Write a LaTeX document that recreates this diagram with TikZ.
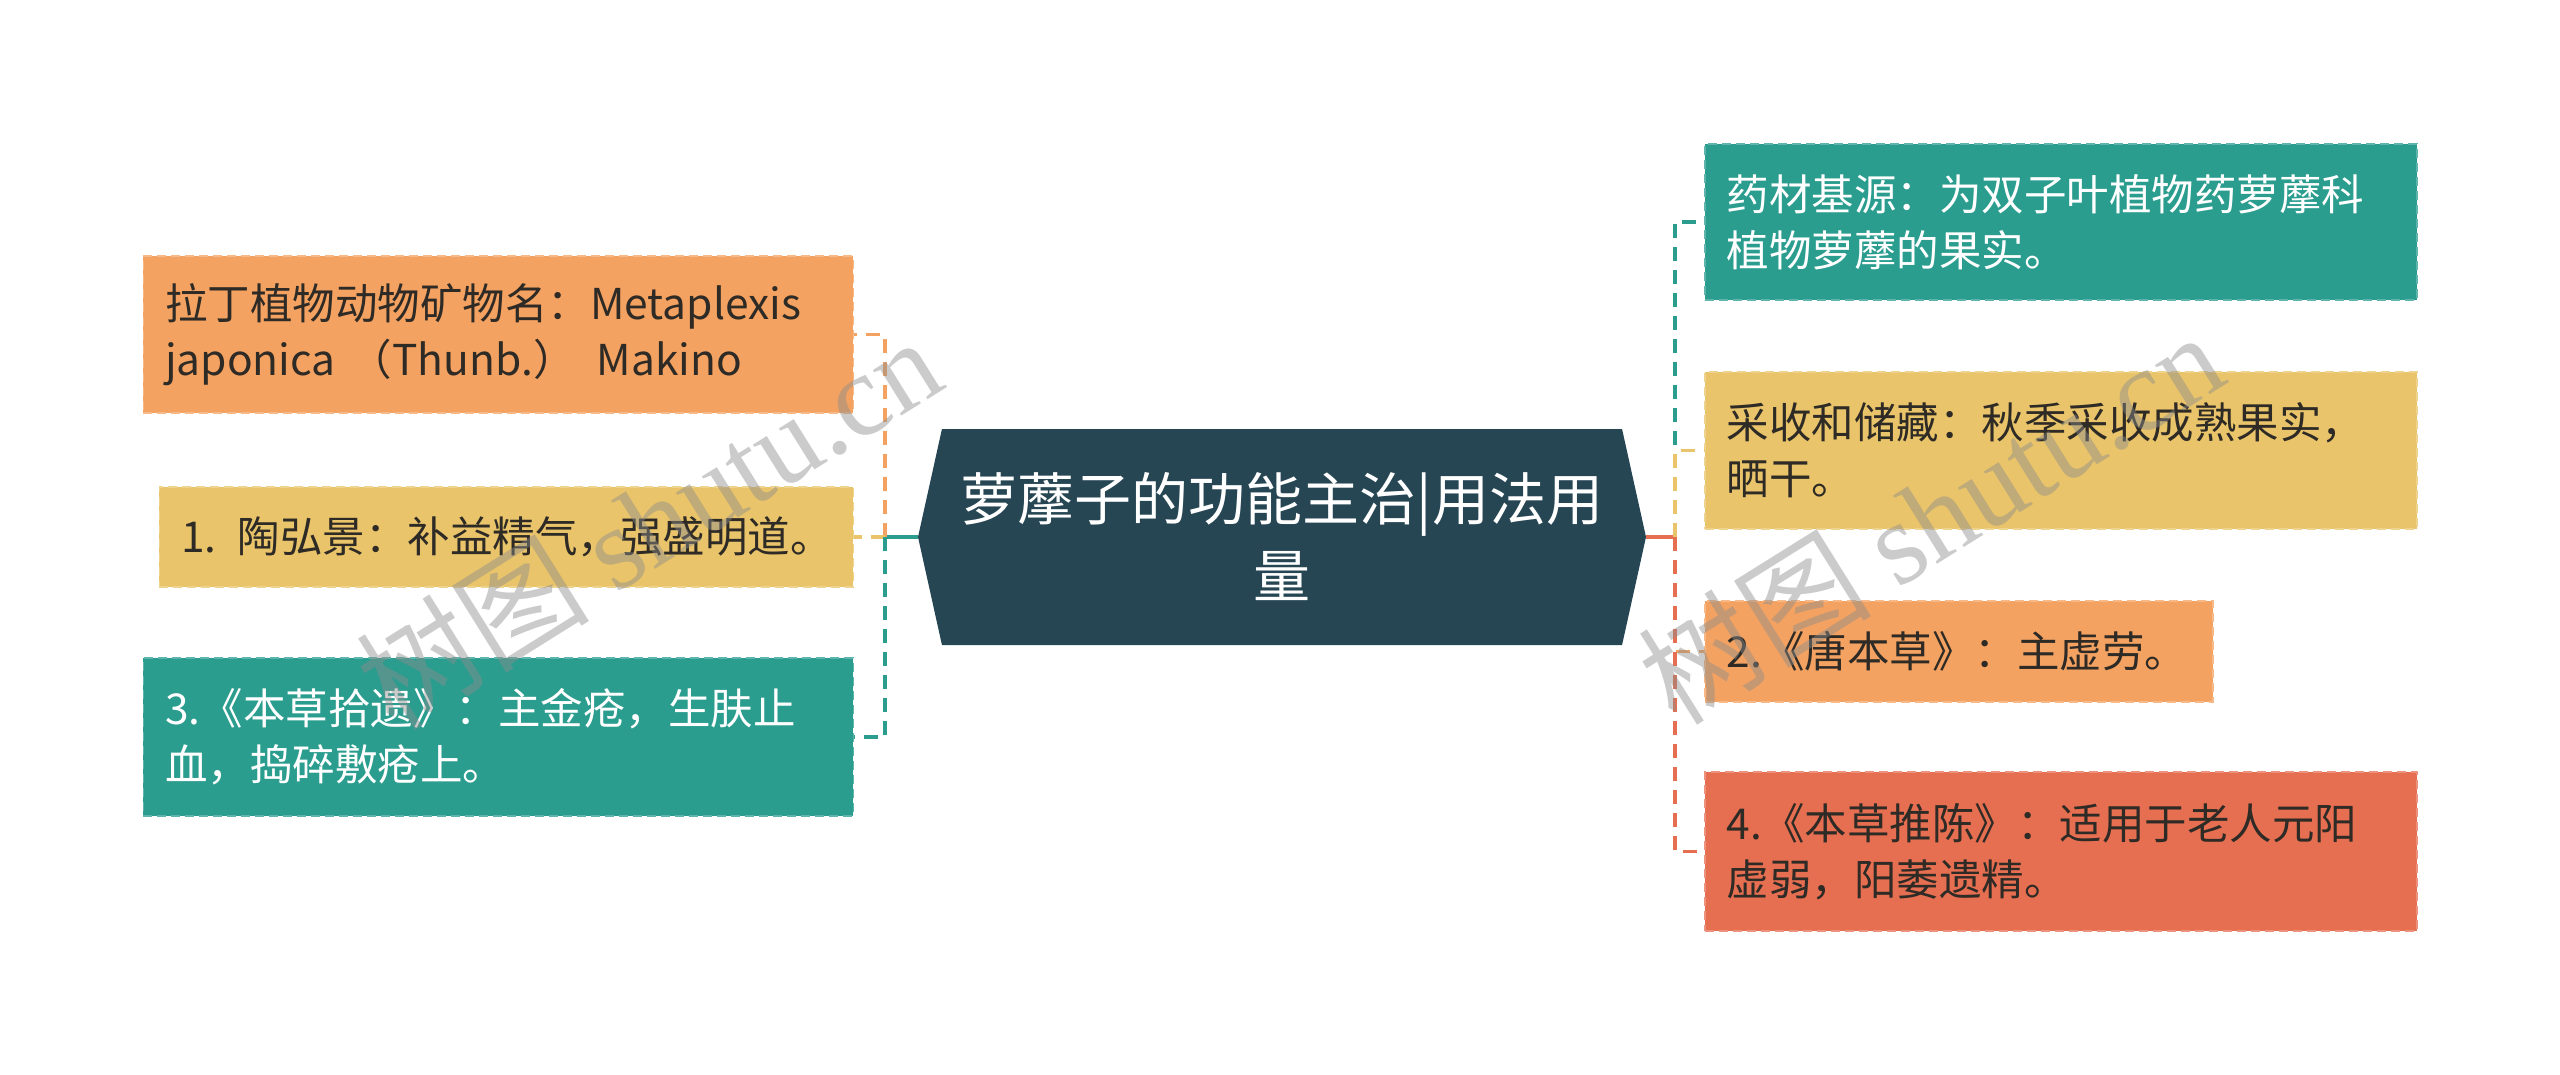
\documentclass[tikz,border=0pt]{standalone}
\usepackage{fontspec}
\setmainfont{Noto Sans CJK SC}
\newfontfamily\markfont{Liberation Serif}
\usepackage{tikz}
\usetikzlibrary{positioning}
\usetikzlibrary{shapes.symbols}
\definecolor{hubslate}{HTML}{264653}
\definecolor{leafteal}{HTML}{2A9D8F}
\definecolor{leafsand}{HTML}{E9C46A}
\definecolor{leafpeach}{HTML}{F4A261}
\definecolor{leafcoral}{HTML}{E76F51}
\definecolor{inkdark}{HTML}{2E2A25}

\begin{document}
\begin{tikzpicture}[x=1pt, y=-1pt,
    hub/.style={signal, signal to=east and west, signal pointer angle=155,
      fill=hubslate, text=white, minimum width=728pt, minimum height=216pt,
      inner sep=0pt, align=center, font=\fontsize{57}{77}\selectfont},
    leaf/.style={rectangle, fill=#1, draw=#1!75!white, dash pattern=on 9pt off 5pt,
      line width=1.5pt, inner xsep=22pt, inner ysep=0pt, align=left,
      text=inkdark, font=\fontsize{42.5}{56}\selectfont},
    link/.style={line width=3.5pt, dash pattern=on 14pt off 9pt},
    stub/.style={line width=3.5pt},
    wmark/.style={rotate=32, text=black!45, opacity=0.45, font=\fontsize{117}{117}\selectfont}]
            \useasboundingbox (0,0) rectangle (2560,1075);

            \node[hub] (c) at (1282,537) {萝藦子的功能主治|用法用\\量};

            \node[leaf=leafpeach, anchor=east, text width=666pt, minimum height=157pt] (l1) at (854,334.5)
              {拉丁植物动物矿物名：Metaplexis\\japonica （Thunb.） Makino};
            \node[leaf=leafsand, anchor=east, text width=650pt, minimum height=100pt] (l2) at (854,537)
              {1. 陶弘景：补益精气，强盛明道。};
            \node[leaf=leafteal, anchor=east, text=white, text width=666pt, minimum height=158pt] (l3) at (854,737)
              {3.《本草拾遗》：主金疮，生肤止\\血，捣碎敷疮上。};

            \node[leaf=leafteal, anchor=west, text=white, text width=668pt, minimum height=156pt] (r1) at (1704,222)
              {药材基源：为双子叶植物药萝藦科\\植物萝藦的果实。};
            \node[leaf=leafsand, anchor=west, text width=668pt, minimum height=157pt] (r2) at (1704,450.5)
              {采收和储藏：秋季采收成熟果实，\\晒干。};
            \node[leaf=leafpeach, anchor=west, text width=464pt, minimum height=101pt] (r3) at (1704,651.5)
              {2.《唐本草》：主虚劳。};
            \node[leaf=leafcoral, anchor=west, text width=668pt, minimum height=159pt] (r4) at (1704,851.5)
              {4.《本草推陈》：适用于老人元阳\\虚弱，阳萎遗精。};

            \coordinate[left=33pt of c.west] (lb);
            \coordinate[right=29pt of c.east] (rb);

            \draw[stub, leafteal] (c.west) -- (lb);
            \draw[link, leafpeach] (lb) |- (l1.east);
            \draw[link, leafsand] (lb) |- (l2.east);
            \draw[link, leafteal] (lb) |- (l3.east);

            \draw[stub, leafcoral] (c.east) -- (rb);
            \draw[link, leafteal] (rb) |- (r1.west);
            \draw[link, leafsand] (rb) |- (r2.west);
            \draw[link, leafpeach] (rb) |- (r3.west);
            \draw[link, leafcoral] (rb) |- (r4.west);

            \node[wmark] (wm1) at (648,522) {树图 {\markfont shutu.cn}};
            \node[wmark] (wm2) at (1930,517) {树图 {\markfont shutu.cn}};

          \end{tikzpicture}
\end{document}
